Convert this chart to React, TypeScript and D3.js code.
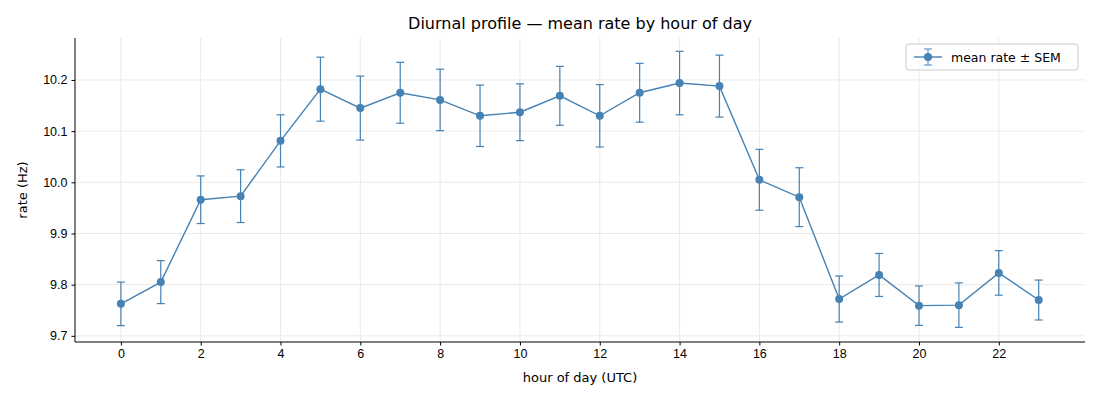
import { useEffect, useRef } from "react";
import * as d3 from "d3";

const hours = d3.range(0, 24);
const meanRate = [9.7625, 9.805, 9.966, 9.973, 10.081, 10.182, 10.145, 10.175, 10.161, 10.13, 10.137, 10.169,
  10.13, 10.175, 10.194, 10.188, 10.005, 9.971, 9.772, 9.819, 9.759, 9.76, 9.823, 9.77];
const sem = [0.0425, 0.042, 0.0465, 0.0515, 0.051, 0.0625, 0.0625, 0.0595, 0.06, 0.06, 0.0555, 0.0575,
  0.061, 0.0575, 0.062, 0.0605, 0.0595, 0.0575, 0.045, 0.042, 0.0385, 0.0435, 0.0435, 0.039];
const xTicks = [0, 2, 4, 6, 8, 10, 12, 14, 16, 18, 20, 22];
const yTicks = [9.7, 9.8, 9.9, 10.0, 10.1, 10.2];

const App = () => {
  const svgRef = useRef<SVGSVGElement>(null);

  useEffect(() => {
    if (!svgRef.current) return;
    const svg = d3.select(svgRef.current);
    svg.selectAll("*").remove();
    const color = "#4682b4";
    const left = 75, right = 1085, top = 38, bottom = 342;

    const x = d3.scaleLinear().domain([-1.15, 24.16]).range([left, right]);
    const y = d3.scaleLinear().domain([9.688, 10.282]).range([bottom, top]);

    const g = svg.append("g").style("font-family", "DejaVu Sans, sans-serif");

    // grid
    g.selectAll(".gx").data(xTicks).join("line")
      .attr("x1", (d) => x(d)).attr("x2", (d) => x(d)).attr("y1", top).attr("y2", bottom)
      .attr("stroke", "#e5e5e5").attr("stroke-width", 0.8);
    g.selectAll(".gy").data(yTicks).join("line")
      .attr("x1", left).attr("x2", right).attr("y1", (d) => y(d)).attr("y2", (d) => y(d))
      .attr("stroke", "#e5e5e5").attr("stroke-width", 0.8);

    // axes
    const xa = g.append("g").attr("transform", `translate(0,${bottom})`)
      .call(d3.axisBottom(x).tickValues(xTicks).tickSize(3.5).tickPadding(4).tickFormat(d3.format("d")));
    xa.select(".domain").remove();
    const ya = g.append("g").attr("transform", `translate(${left},0)`)
      .call(d3.axisLeft(y).tickValues(yTicks).tickSize(3.5).tickPadding(4).tickFormat(d3.format(".1f")));
    ya.select(".domain").remove();
    g.selectAll(".tick text").style("font-size", "12.5px").attr("fill", "#000");
    g.selectAll(".tick line").attr("stroke", "#000");
    g.append("line").attr("x1", left).attr("x2", right).attr("y1", bottom).attr("y2", bottom).attr("stroke", "#000");
    g.append("line").attr("x1", left).attr("x2", left).attr("y1", top).attr("y2", bottom).attr("stroke", "#000");

    // error bars
    const eb = g.selectAll(".eb").data(hours).join("g");
    eb.append("line")
      .attr("x1", (d) => x(d)).attr("x2", (d) => x(d))
      .attr("y1", (d) => y(meanRate[d] - sem[d])).attr("y2", (d) => y(meanRate[d] + sem[d]))
      .attr("stroke", color).attr("stroke-width", 1.2);
    [-1, 1].forEach((s) => {
      eb.append("line")
        .attr("x1", (d) => x(d) - 4).attr("x2", (d) => x(d) + 4)
        .attr("y1", (d) => y(meanRate[d] + s * sem[d])).attr("y2", (d) => y(meanRate[d] + s * sem[d]))
        .attr("stroke", color).attr("stroke-width", 1.2);
    });

    const line = d3.line<number>().x((d) => x(d)).y((d) => y(meanRate[d]));
    g.append("path").datum(hours).attr("d", line).attr("fill", "none").attr("stroke", color).attr("stroke-width", 1.4);
    g.selectAll(".pt").data(hours).join("circle")
      .attr("cx", (d) => x(d)).attr("cy", (d) => y(meanRate[d])).attr("r", 4).attr("fill", color);

    // labels
    g.append("text").attr("x", (left + right) / 2).attr("y", 29).attr("text-anchor", "middle")
      .style("font-size", "16px").text("Diurnal profile — mean rate by hour of day");
    g.append("text").attr("x", (left + right) / 2).attr("y", 382).attr("text-anchor", "middle")
      .style("font-size", "13px").text("hour of day (UTC)");
    g.append("text").attr("transform", `translate(27,${(top + bottom) / 2}) rotate(-90)`).attr("text-anchor", "middle")
      .style("font-size", "13px").text("rate (Hz)");

    // legend
    const lg = g.append("g").attr("transform", "translate(906,44)");
    lg.append("rect").attr("width", 172).attr("height", 26).attr("rx", 3)
      .attr("fill", "#fff").attr("fill-opacity", 0.8).attr("stroke", "#ccc");
    lg.append("line").attr("x1", 8).attr("x2", 36).attr("y1", 13).attr("y2", 13).attr("stroke", color).attr("stroke-width", 1.4);
    lg.append("line").attr("x1", 22).attr("x2", 22).attr("y1", 5).attr("y2", 21).attr("stroke", color);
    lg.append("line").attr("x1", 18).attr("x2", 26).attr("y1", 5).attr("y2", 5).attr("stroke", color);
    lg.append("line").attr("x1", 18).attr("x2", 26).attr("y1", 21).attr("y2", 21).attr("stroke", color);
    lg.append("circle").attr("cx", 22).attr("cy", 13).attr("r", 4).attr("fill", color);
    lg.append("text").attr("x", 45).attr("y", 17.5).style("font-size", "12.5px").text("mean rate ± SEM");
  }, []);

  return <svg ref={svgRef} width={1100} height={400} style={{ position: "absolute", left: 0, top: 0 }}></svg>;
};

export default App;
